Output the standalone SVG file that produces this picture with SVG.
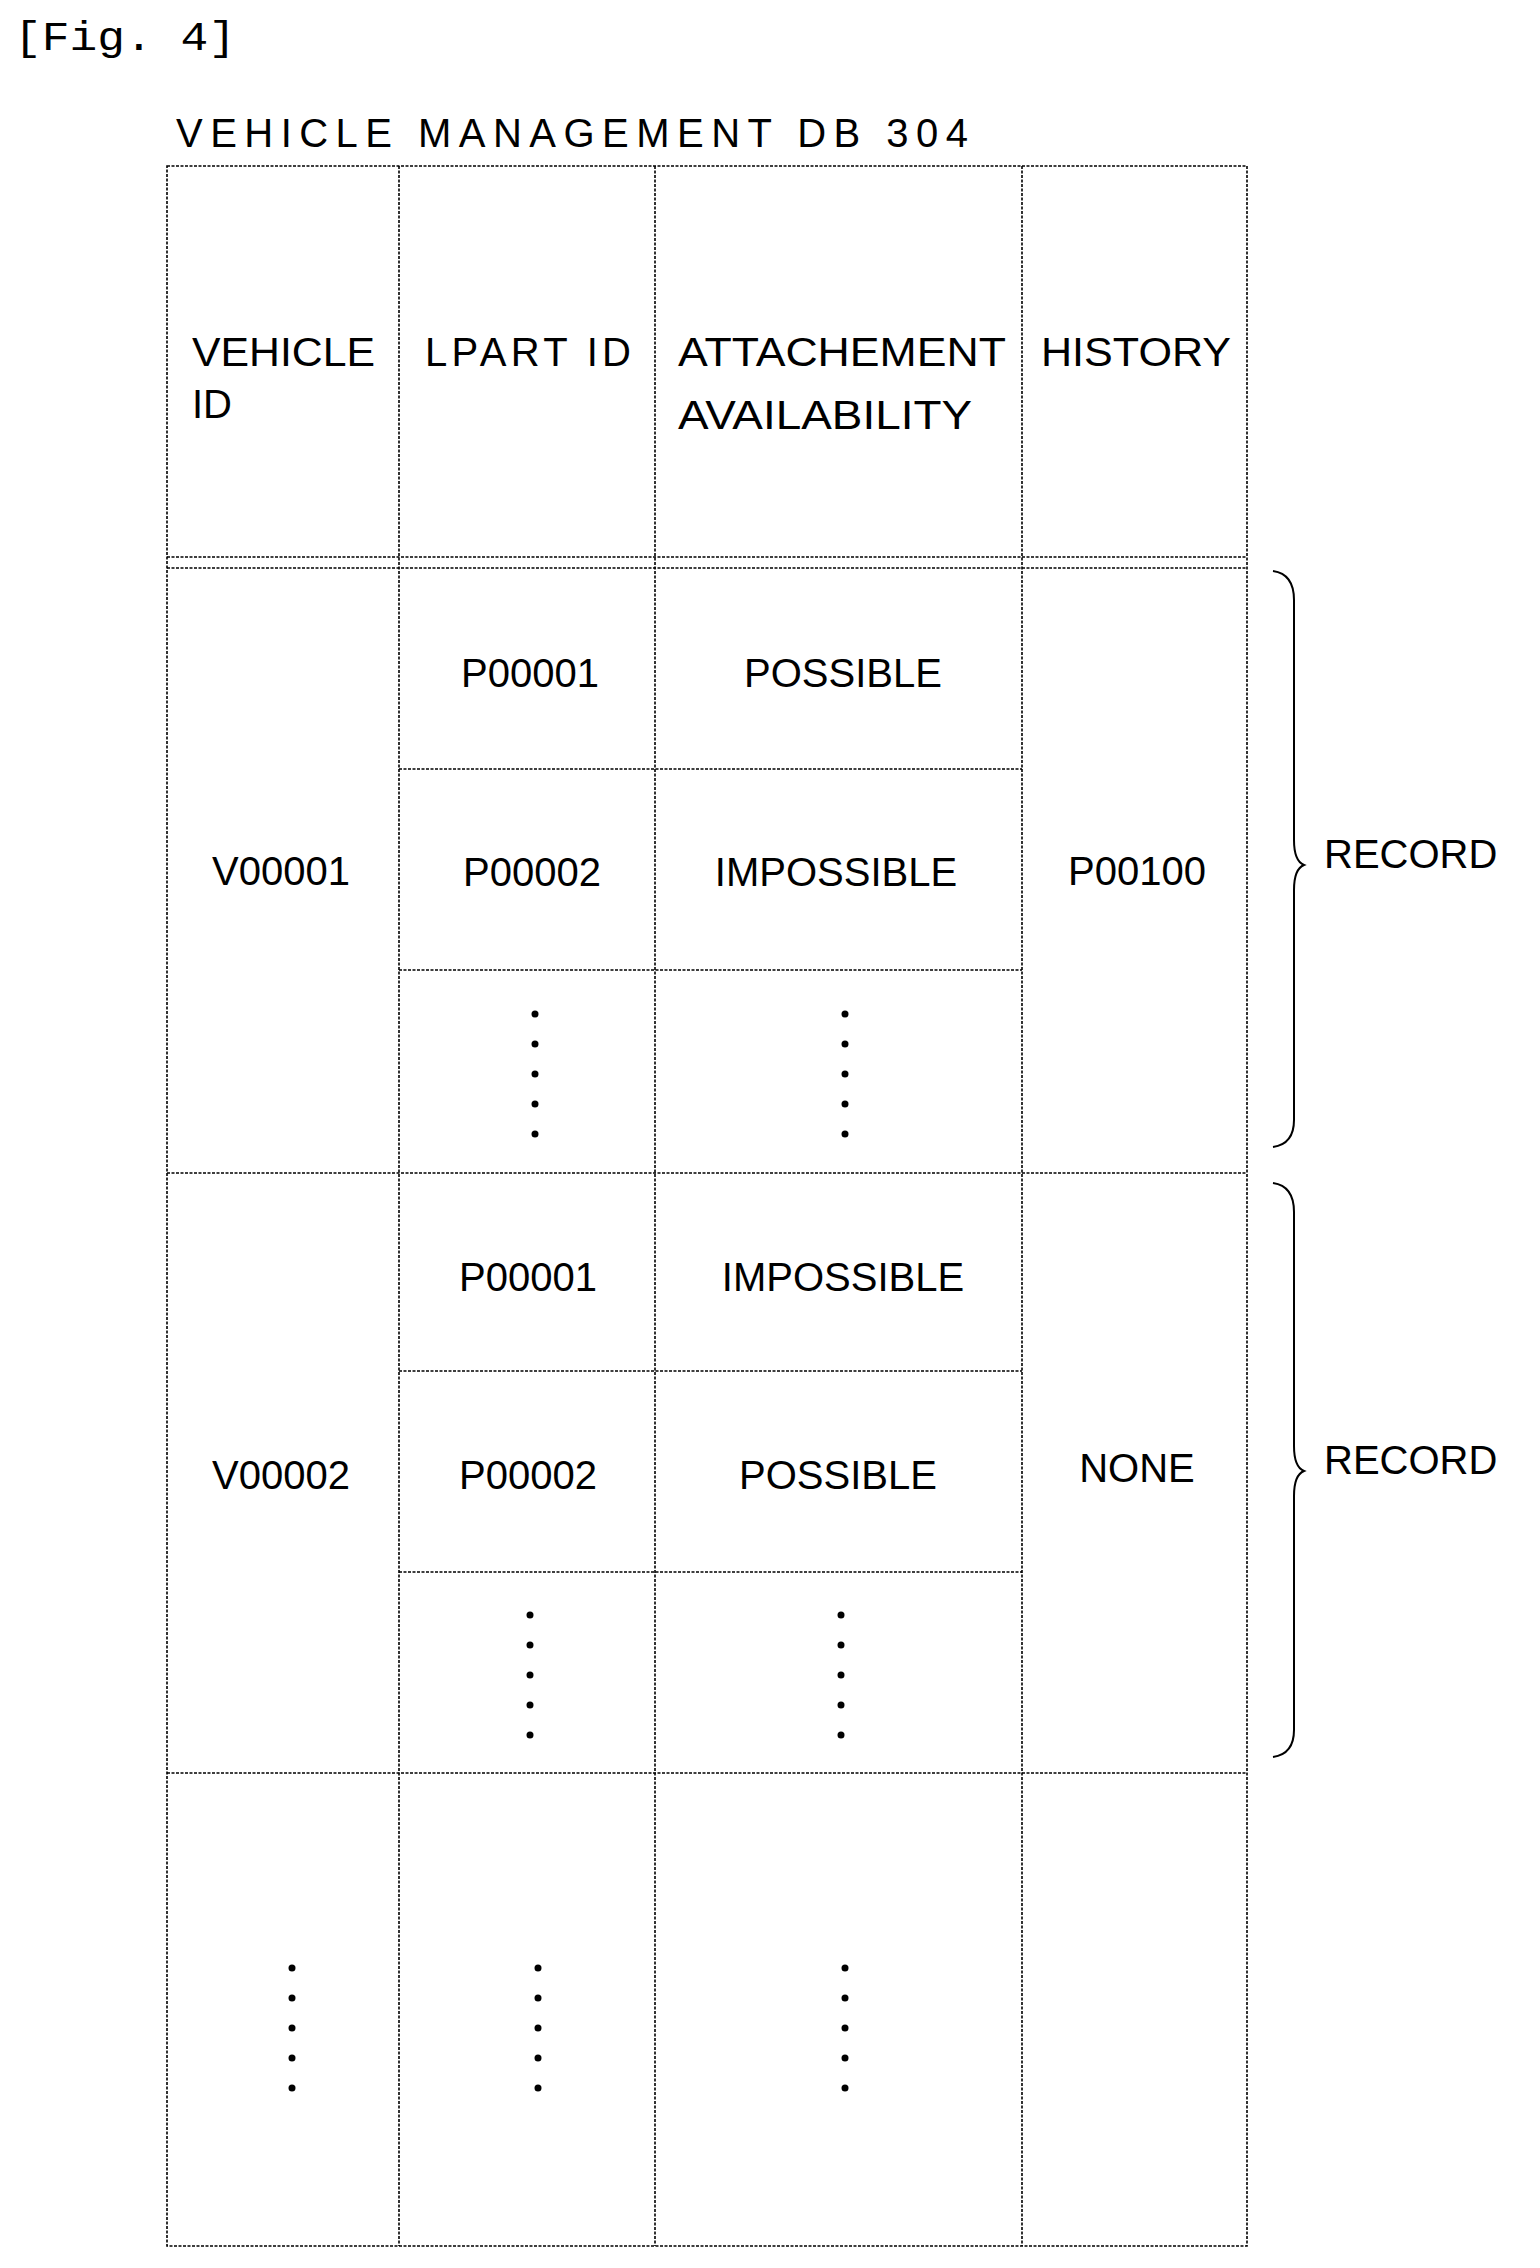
<svg xmlns="http://www.w3.org/2000/svg" width="1540" height="2268" viewBox="0 0 1540 2268">
<style>
.l{stroke:#000;stroke-width:1.6;stroke-dasharray:3 1.5;fill:none}
.t{font-family:"Liberation Sans",Arial,sans-serif;font-size:40px;fill:#000}
.c{text-anchor:middle}
.d{fill:#000}
.b{stroke:#000;stroke-width:2;fill:none}
</style>
<defs>
<g id="dots"><circle cx="0" cy="0" r="3.5" class="d"/><circle cx="0" cy="30" r="3.5" class="d"/><circle cx="0" cy="60" r="3.5" class="d"/><circle cx="0" cy="90" r="3.5" class="d"/><circle cx="0" cy="120" r="3.5" class="d"/></g>
</defs>
<rect width="1540" height="2268" fill="#fff"/>
<text x="14" y="50" font-family="Liberation Mono,monospace" font-size="40" textLength="222" lengthAdjust="spacingAndGlyphs">[Fig.  4]</text>
<text x="176" y="147" class="t" font-size="50" textLength="792" lengthAdjust="spacing">VEHICLE MANAGEMENT DB 304</text>
<g id="table">
<rect x="167" y="166" width="1080" height="2080" class="l"/>
<line x1="399" y1="166" x2="399" y2="2246" class="l"/>
<line x1="655" y1="166" x2="655" y2="2246" class="l"/>
<line x1="1022" y1="166" x2="1022" y2="2246" class="l"/>
<line x1="167" y1="557" x2="1247" y2="557" class="l"/>
<line x1="167" y1="568" x2="1247" y2="568" class="l"/>
<line x1="399" y1="769" x2="1022" y2="769" class="l"/>
<line x1="399" y1="970" x2="1022" y2="970" class="l"/>
<line x1="167" y1="1173" x2="1247" y2="1173" class="l"/>
<line x1="399" y1="1371" x2="1022" y2="1371" class="l"/>
<line x1="399" y1="1572" x2="1022" y2="1572" class="l"/>
<line x1="167" y1="1773" x2="1247" y2="1773" class="l"/>
</g>
<g id="header">
<text x="192" y="366" class="t" textLength="183" lengthAdjust="spacingAndGlyphs">VEHICLE</text>
<text x="192" y="418" class="t">ID</text>
<text x="425" y="366" class="t" textLength="206" lengthAdjust="spacing">LPART ID</text>
<text x="678" y="366" class="t" textLength="328" lengthAdjust="spacingAndGlyphs">ATTACHEMENT</text>
<text x="678" y="429" class="t" textLength="294" lengthAdjust="spacingAndGlyphs">AVAILABILITY</text>
<text x="1041" y="366" class="t" textLength="190" lengthAdjust="spacingAndGlyphs">HISTORY</text>
</g>
<g id="record1">
<text x="281" y="885" class="t c">V00001</text>
<text x="530" y="687" class="t c">P00001</text>
<text x="843" y="687" class="t c">POSSIBLE</text>
<text x="532" y="886" class="t c">P00002</text>
<text x="836" y="886" class="t c">IMPOSSIBLE</text>
<text x="1137" y="885" class="t c">P00100</text>
<use href="#dots" x="535" y="1014"/>
<use href="#dots" x="845" y="1014"/>
</g>
<g id="record2">
<text x="281" y="1489" class="t c">V00002</text>
<text x="528" y="1291" class="t c">P00001</text>
<text x="843" y="1291" class="t c">IMPOSSIBLE</text>
<text x="528" y="1489" class="t c">P00002</text>
<text x="838" y="1489" class="t c">POSSIBLE</text>
<text x="1137" y="1482" class="t c">NONE</text>
<use href="#dots" x="530" y="1615"/>
<use href="#dots" x="841" y="1615"/>
</g>
<g id="more">
<use href="#dots" x="292" y="1968"/>
<use href="#dots" x="538" y="1968"/>
<use href="#dots" x="845" y="1968"/>
</g>
<g id="connectors">
<path class="b" d="M1273,571 Q1294,574 1294,600 L1294,840 Q1294,861 1304,865 Q1294,869 1294,890 L1294,1120 Q1294,1144 1273,1147"/>
<path class="b" d="M1273,1183 Q1294,1186 1294,1212 L1294,1446 Q1294,1467 1304,1471 Q1294,1475 1294,1496 L1294,1730 Q1294,1754 1273,1757"/>
</g>
<text x="1324" y="868" class="t">RECORD</text>
<text x="1324" y="1474" class="t">RECORD</text>
</svg>
